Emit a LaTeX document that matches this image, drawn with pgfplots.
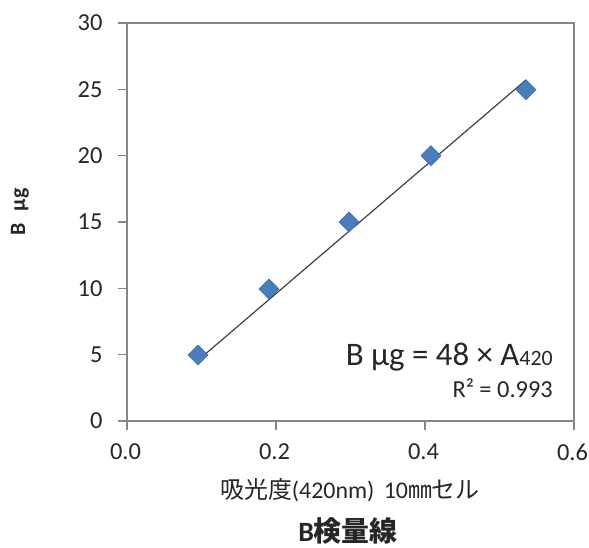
\documentclass[border=0pt]{standalone}
\usepackage{fontspec}
\setmainfont{Carlito}
\newfontfamily\cjk{Noto Sans CJK JP}
\usepackage{pgfplots}
\pgfplotsset{compat=1.18}

\definecolor{ptblue}{HTML}{4A7EBB}
\definecolor{ptedge}{HTML}{3C6AA4}
\definecolor{axgray}{HTML}{868686}
\definecolor{txt}{HTML}{262626}

\begin{document}
\begin{tikzpicture}
\begin{axis}[
  scale only axis,
  width=447bp, height=398bp,
  at={(0,0)}, anchor=south west,
  xmin=0, xmax=0.6, ymin=0, ymax=30,
  xtick={0,0.2,0.4,0.6}, ytick={0,5,...,30},
  xticklabel style={xshift=-1.5bp, /pgf/number format/.cd,fixed,fixed zerofill,precision=1},
  /pgf/number format/assume math mode=true,
  tick label style={font=\fontsize{24.5}{24.5}\selectfont, text=txt},
  axis line style={axgray, line width=1.2pt},
  tick style={axgray, line width=1.2pt},
  tick align=outside, major tick length=9bp,
  xtick pos=bottom, ytick pos=left,
  xticklabel shift=10bp, yticklabel shift=12bp,
  clip=false,
]
\addplot[no markers, color=black!75, line width=1.2pt] coordinates {(0.0953,4.574) (0.5356,25.71)};
\addplot[only marks, mark=square*, mark size=7.1bp,
  mark options={rotate=45, fill=ptblue, draw=ptedge, line width=0.5pt}]
  coordinates {(0.0953,4.97) (0.1906,9.95) (0.298,15.0) (0.408,20.0) (0.5356,24.97)};
\node[anchor=base east, text=txt, font=\fontsize{33}{33}\selectfont, inner sep=0pt]
  at (axis description cs:{(553-127)/447},{(421-365)/398}) {B µg = 48 × A{\fontsize{22}{22}\selectfont 420}};
\node[anchor=base east, text=txt, font=\fontsize{24.5}{24.5}\selectfont, inner sep=0pt]
  at (axis description cs:{(553-127)/447},{(421-397)/398}) {R² = 0.993};
\node[anchor=center, text=txt, inner sep=0pt, font=\fontsize{24}{24}\selectfont]
  at (axis description cs:{(350-127)/447},{(421-490)/398}) {{\cjk 吸光度}(420nm)\, 10{\cjk ㎜セル}};
\node[anchor=center, text=txt, inner sep=0pt, font=\fontsize{28}{28}\selectfont\bfseries]
  at (axis description cs:{(348-127)/447},{(421-531)/398}) {B{\cjk\bfseries 検量線}};
\node[anchor=center, rotate=90, text=txt, inner sep=0pt, font=\fontsize{22}{22}\selectfont\bfseries]
  at (axis description cs:{(20-127)/447},{(421-212)/398}) {B\hspace{0.55em}µg};
\coordinate (bbsw) at (axis description cs:{-127/447},{-127/398});
\coordinate (bbne) at (axis description cs:{462/447},{421/398});
\end{axis}
\pgfresetboundingbox
\useasboundingbox (bbsw) rectangle (bbne);
\end{tikzpicture}
\end{document}
